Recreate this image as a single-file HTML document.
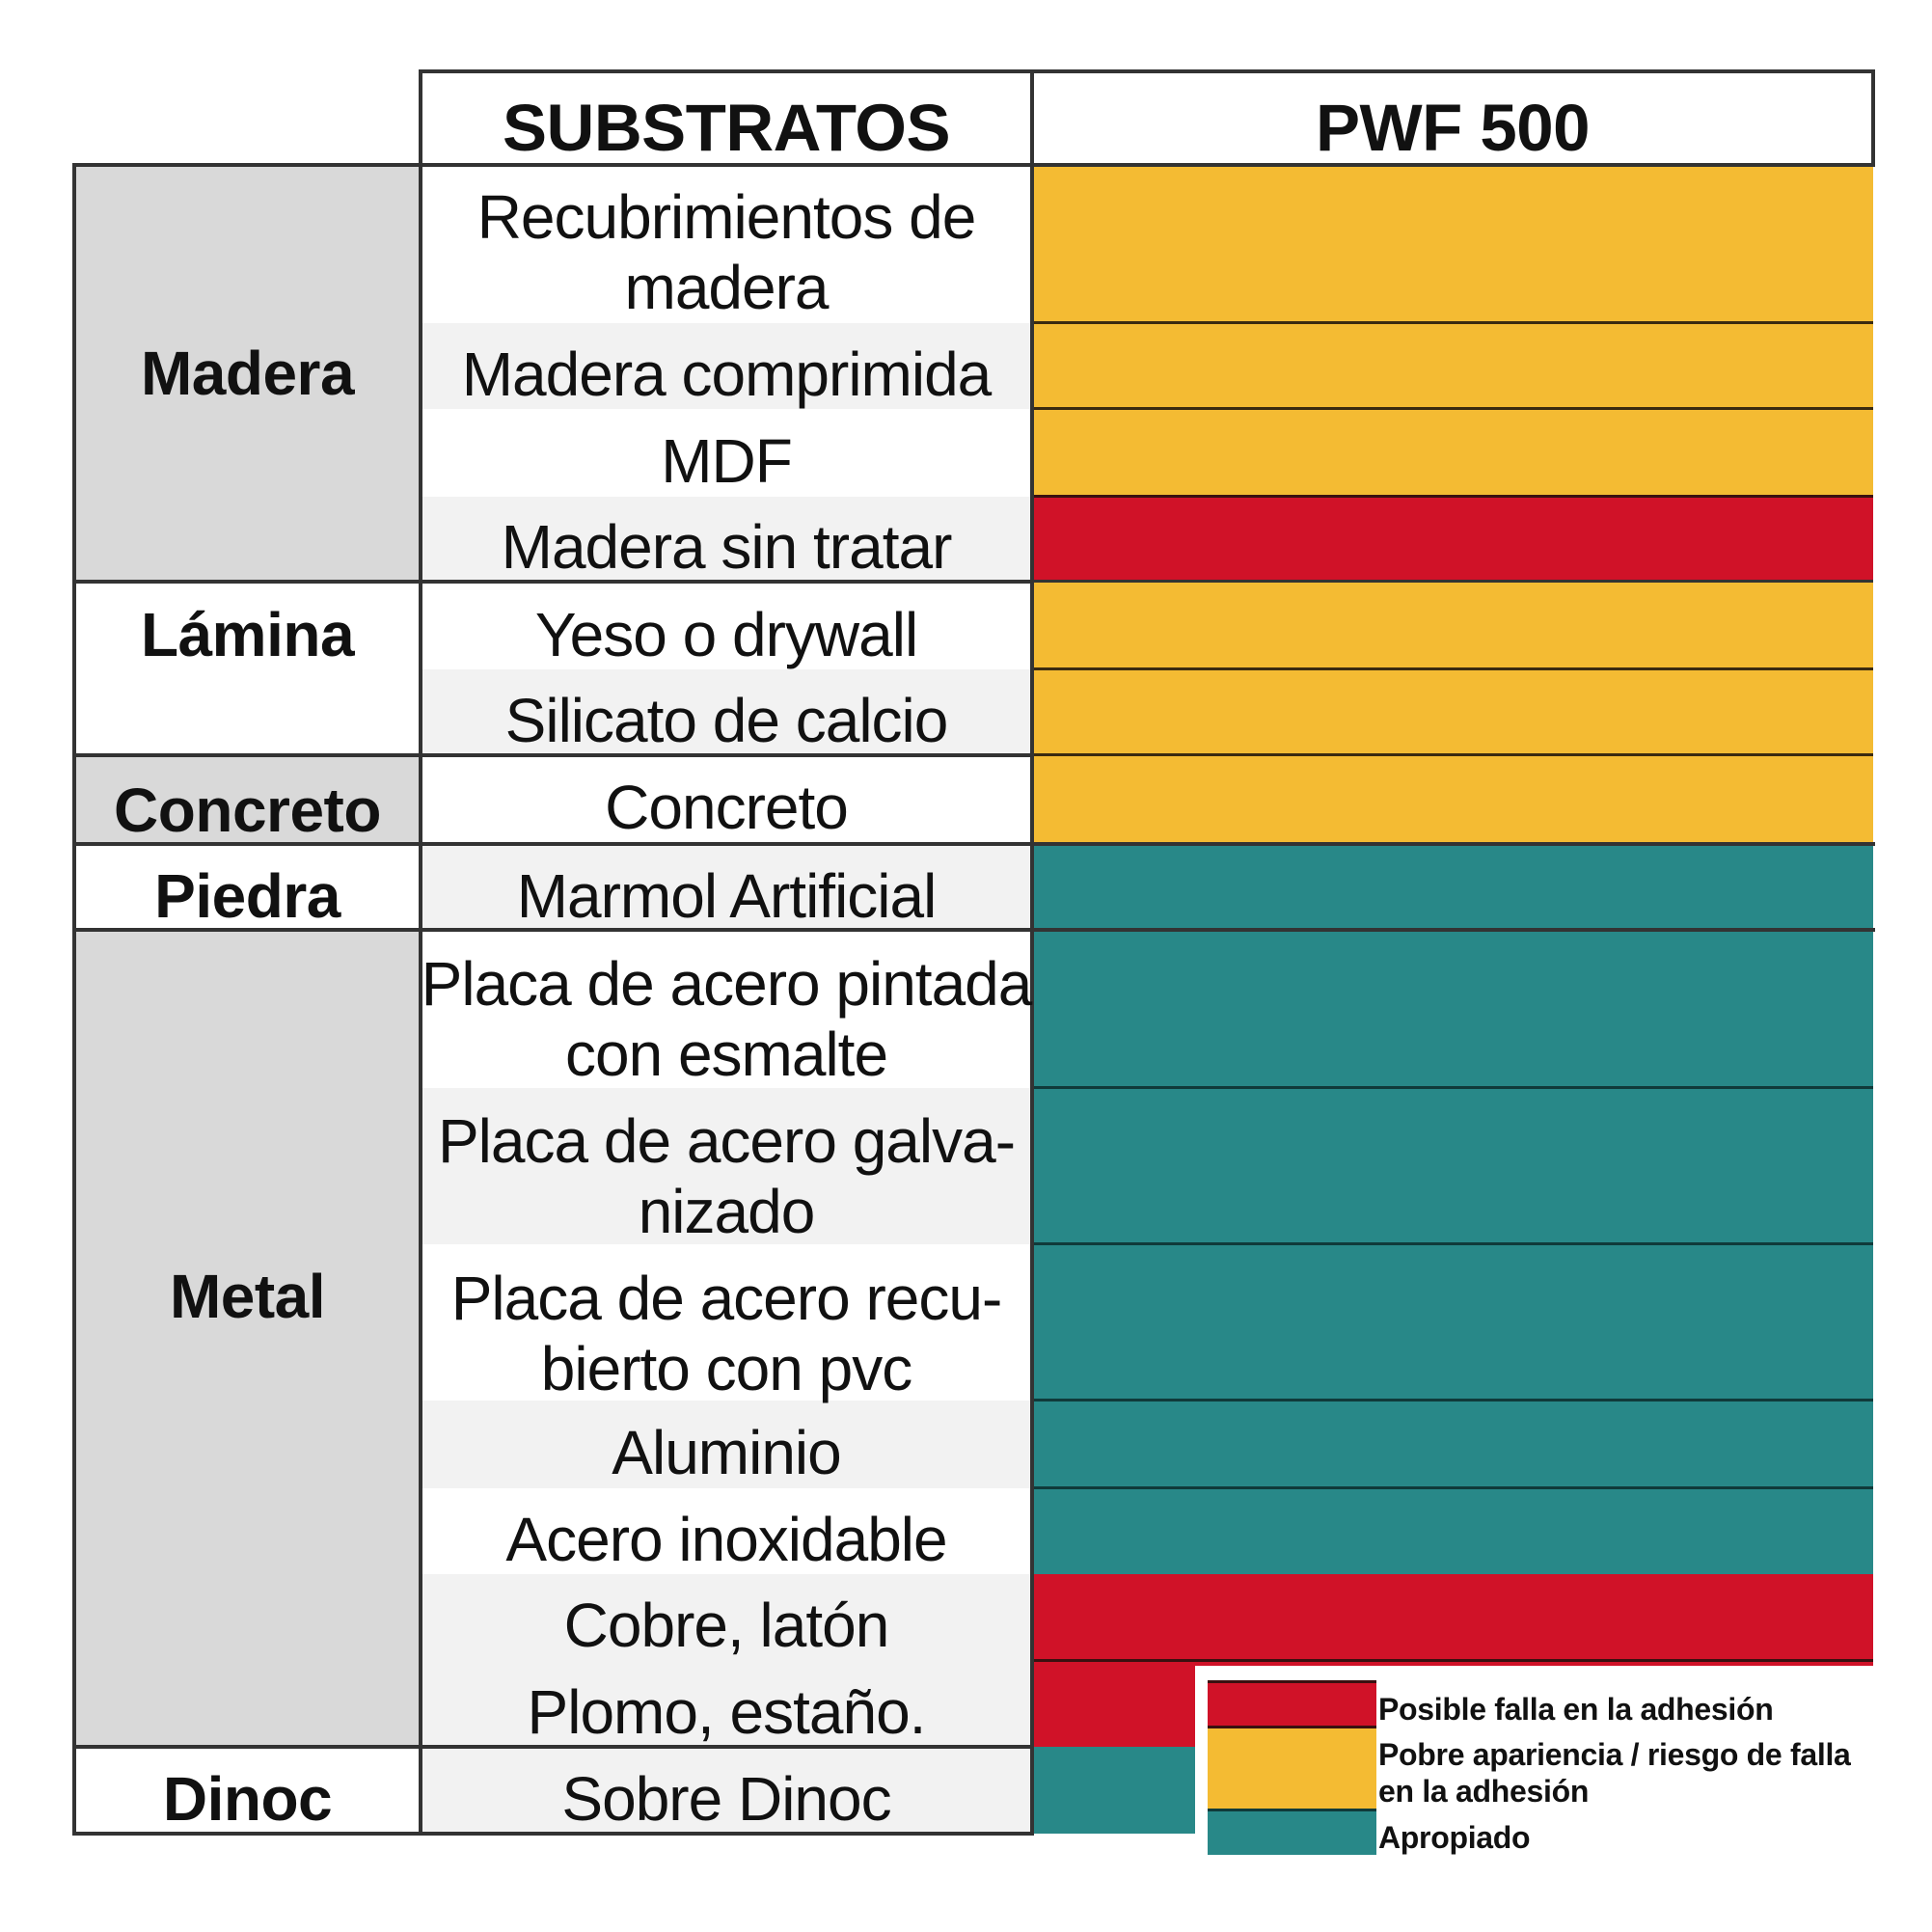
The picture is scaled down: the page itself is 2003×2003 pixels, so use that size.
<!DOCTYPE html>
<html><head><meta charset="utf-8"><style>
*{margin:0;padding:0;box-sizing:border-box}
body{width:2003px;height:2003px;background:#fff;position:relative;overflow:hidden;font-family:"Liberation Sans",Arial,sans-serif;color:#111}
.a{position:absolute}
.c{position:absolute;display:flex;align-items:center;justify-content:center;text-align:center;white-space:nowrap}
.s{font-size:64px;line-height:73px;letter-spacing:-1px}
.b{font-weight:bold;font-size:64px;letter-spacing:-0.5px}
.h{font-weight:bold;font-size:69px;letter-spacing:-0.5px}
.hl{position:absolute;height:4px;background:#333}
.vl{position:absolute;width:4px;background:#333}
.y{background:#f4bb33}.r{background:#d01228}.t{background:#288888}
.lg{font-weight:bold;font-size:32px;line-height:38px;letter-spacing:-0.3px;position:absolute;left:1429px;white-space:nowrap}
</style></head><body>
<div class="a" style="left:77px;top:171px;width:359px;height:432px;background:#d9d9d9"></div>
<div class="a" style="left:77px;top:783px;width:359px;height:92px;background:#d9d9d9"></div>
<div class="a" style="left:77px;top:964px;width:359px;height:847px;background:#d9d9d9"></div>
<div class="a" style="left:436px;top:335px;width:634px;height:89px;background:#f2f2f2"></div>
<div class="a" style="left:436px;top:515px;width:634px;height:88px;background:#f2f2f2"></div>
<div class="a" style="left:436px;top:694px;width:634px;height:89px;background:#f2f2f2"></div>
<div class="a" style="left:436px;top:875px;width:634px;height:89px;background:#f2f2f2"></div>
<div class="a" style="left:436px;top:1128px;width:634px;height:162px;background:#f2f2f2"></div>
<div class="a" style="left:436px;top:1452px;width:634px;height:91px;background:#f2f2f2"></div>
<div class="a" style="left:436px;top:1632px;width:634px;height:269px;background:#f2f2f2"></div>
<div class="a y" style="left:1070px;top:171px;width:872px;height:432px"></div>
<div class="a r" style="left:1070px;top:515px;width:872px;height:88px"></div>
<div class="a y" style="left:1070px;top:603px;width:872px;height:272px"></div>
<div class="a t" style="left:1070px;top:875px;width:872px;height:757px"></div>
<div class="a r" style="left:1070px;top:1632px;width:872px;height:179px"></div>
<div class="a t" style="left:1070px;top:1811px;width:872px;height:90px"></div>
<div class="hl" style="left:1070px;top:333px;width:872px;height:3px;background:#3a2a10"></div>
<div class="hl" style="left:1070px;top:422px;width:872px;height:3px;background:#3a2a10"></div>
<div class="hl" style="left:1070px;top:513px;width:872px;height:3px;background:#3a1010"></div>
<div class="hl" style="left:1070px;top:692px;width:872px;height:3px;background:#3a2a10"></div>
<div class="hl" style="left:1070px;top:781px;width:872px;height:3px;background:#3a2a10"></div>
<div class="hl" style="left:1070px;top:1126px;width:872px;height:3px;background:#103a3a"></div>
<div class="hl" style="left:1070px;top:1288px;width:872px;height:3px;background:#103a3a"></div>
<div class="hl" style="left:1070px;top:1450px;width:872px;height:3px;background:#103a3a"></div>
<div class="hl" style="left:1070px;top:1541px;width:872px;height:3px;background:#103a3a"></div>
<div class="hl" style="left:1070px;top:1720px;width:872px;height:3px;background:#3a1010"></div>
<div class="hl" style="left:436px;top:72px;width:1508px"></div>
<div class="hl" style="left:77px;top:169px;width:1867px"></div>
<div class="hl" style="left:77px;top:601px;width:993px"></div>
<div class="hl" style="left:77px;top:781px;width:993px"></div>
<div class="hl" style="left:77px;top:873px;width:1867px"></div>
<div class="hl" style="left:77px;top:962px;width:1867px"></div>
<div class="hl" style="left:77px;top:1809px;width:993px"></div>
<div class="hl" style="left:77px;top:1899px;width:993px"></div>
<div class="hl" style="left:1070px;top:601px;width:872px;height:3px"></div>
<div class="vl" style="left:75px;top:169px;height:1734px"></div>
<div class="vl" style="left:434px;top:72px;height:1831px"></div>
<div class="vl" style="left:1068px;top:72px;height:1831px"></div>
<div class="vl" style="left:1940px;top:72px;height:101px"></div>
<div class="c h" style="left:436px;top:84px;width:634px;height:97px">SUBSTRATOS</div>
<div class="c h" style="left:1070px;top:84px;width:872px;height:97px">PWF 500</div>
<div class="c b" style="left:77px;top:347px;width:359px;height:80px">Madera</div>
<div class="c b" style="left:77px;top:618px;width:359px;height:80px">Lámina</div>
<div class="c b" style="left:77px;top:800px;width:359px;height:80px">Concreto</div>
<div class="c b" style="left:77px;top:889px;width:359px;height:80px">Piedra</div>
<div class="c b" style="left:77px;top:1304px;width:359px;height:80px">Metal</div>
<div class="c b" style="left:77px;top:1825px;width:359px;height:80px">Dinoc</div>
<div class="c s" style="left:436px;top:187px;width:634px;height:150px">Recubrimientos de<br>madera</div>
<div class="c s" style="left:436px;top:352px;width:634px;height:73px">Madera comprimida</div>
<div class="c s" style="left:436px;top:442px;width:634px;height:73px">MDF</div>
<div class="c s" style="left:436px;top:531px;width:634px;height:73px">Madera sin tratar</div>
<div class="c s" style="left:436px;top:622px;width:634px;height:73px">Yeso o drywall</div>
<div class="c s" style="left:436px;top:711px;width:634px;height:73px">Silicato de calcio</div>
<div class="c s" style="left:436px;top:801px;width:634px;height:73px">Concreto</div>
<div class="c s" style="left:436px;top:893px;width:634px;height:73px">Marmol Artificial</div>
<div class="c s" style="left:430px;top:982px;width:646px;height:150px">Placa de acero pintada<br>con esmalte</div>
<div class="c s" style="left:436px;top:1145px;width:634px;height:150px">Placa de acero galva-<br>nizado</div>
<div class="c s" style="left:436px;top:1308px;width:634px;height:150px">Placa de acero recu-<br>bierto con pvc</div>
<div class="c s" style="left:436px;top:1470px;width:634px;height:73px">Aluminio</div>
<div class="c s" style="left:436px;top:1560px;width:634px;height:73px">Acero inoxidable</div>
<div class="c s" style="left:436px;top:1649px;width:634px;height:73px">Cobre, latón</div>
<div class="c s" style="left:436px;top:1739px;width:634px;height:73px">Plomo, estaño.</div>
<div class="c s" style="left:436px;top:1829px;width:634px;height:73px">Sobre Dinoc</div>
<div class="a" style="left:1239px;top:1727px;width:710px;height:276px;background:#fff"></div>
<div class="a r" style="left:1252px;top:1742px;width:175px;height:50px;border-top:3px solid #3a1010;border-bottom:3px solid #3a1010"></div>
<div class="a y" style="left:1252px;top:1792px;width:175px;height:83px"></div>
<div class="a t" style="left:1252px;top:1875px;width:175px;height:48px;border-top:3px solid #103a3a"></div>
<div class="lg" style="top:1753px">Posible falla en la adhesión</div>
<div class="lg" style="top:1800px">Pobre apariencia / riesgo de falla<br>en la adhesión</div>
<div class="lg" style="top:1886px">Apropiado</div>
</body></html>
